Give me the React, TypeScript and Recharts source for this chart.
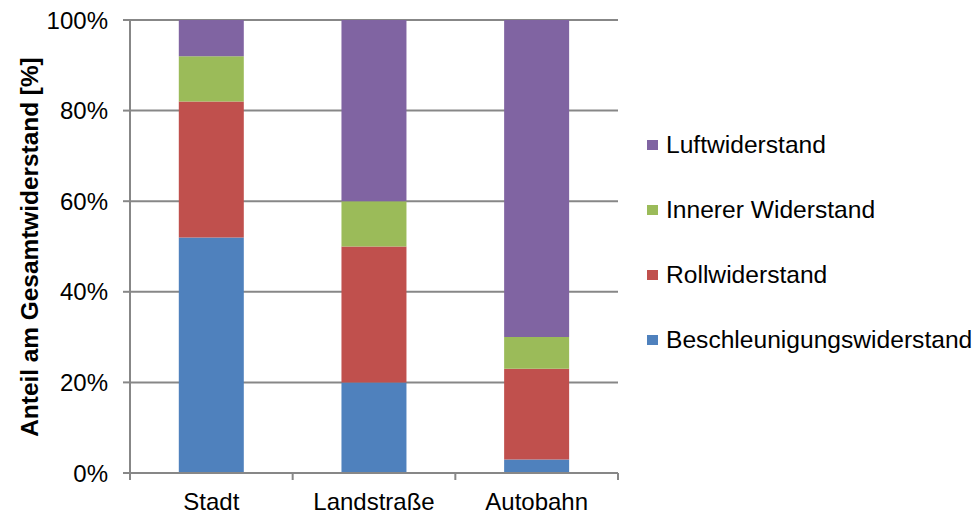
import React from 'react'
import { BarChart, Bar, XAxis, YAxis, CartesianGrid } from 'recharts'

const categories = ['Stadt', 'Landstraße', 'Autobahn']

const beschleunigung = [52, 20, 3]
const roll = [30, 30, 20]
const innerer = [10, 10, 7]
const luft = [8, 40, 70]

const yTicks = [0, 20, 40, 60, 80, 100]

const series = [
  { key: 'beschleunigung', name: 'Beschleunigungswiderstand', color: '#4F81BD', values: beschleunigung },
  { key: 'roll', name: 'Rollwiderstand', color: '#C0504D', values: roll },
  { key: 'innerer', name: 'Innerer Widerstand', color: '#9BBB59', values: innerer },
  { key: 'luft', name: 'Luftwiderstand', color: '#8064A2', values: luft },
]

const data = categories.map((name, i) => {
  const row: Record<string, string | number> = { name }
  series.forEach((s) => {
    row[s.key] = s.values[i]
  })
  return row
})

const WIDTH = 977
const HEIGHT = 514
const MARGIN = { top: 20, right: 359, bottom: 0, left: 0 }
const Y_AXIS_WIDTH = 130
const X_AXIS_HEIGHT = 41
const FONT = '"Liberation Sans", Arial, sans-serif'
const AXIS_COLOR = '#878787'

const plotWidth = WIDTH - MARGIN.left - MARGIN.right - Y_AXIS_WIDTH
const band = plotWidth / categories.length

// category labels centred under bars, tick marks on the band boundaries
const CategoryTick = (props: any) => {
  const { x, y, payload, index } = props
  const top = y
  return (
    <g>
      <line x1={x - band / 2} y1={top} x2={x - band / 2} y2={top + 7} stroke={AXIS_COLOR} strokeWidth={2} />
      {index === categories.length - 1 && (
        <line x1={x + band / 2} y1={top} x2={x + band / 2} y2={top + 7} stroke={AXIS_COLOR} strokeWidth={2} />
      )}
      <text x={x} y={top + 37} textAnchor="middle" fontFamily={FONT} fontSize={24} fill="#000">
        {payload.value}
      </text>
    </g>
  )
}

// legend lists the series top-down in reverse stacking order
const SeriesLegend = () => (
  <div
    style={{
      position: 'absolute',
      left: 647,
      top: 112,
      width: 330,
      fontFamily: FONT,
      fontSize: 24.6,
      color: '#000',
      whiteSpace: 'nowrap',
    }}
  >
    {[...series].reverse().map((s) => (
      <div key={s.key} style={{ display: 'flex', alignItems: 'center', height: 65 }}>
        <span style={{ display: 'inline-block', width: 11, height: 10, background: s.color, marginRight: 8 }} />
        <span>{s.name}</span>
      </div>
    ))}
  </div>
)

export default function App() {
  return (
    <div style={{ position: 'absolute', left: 0, top: 0, width: WIDTH, height: HEIGHT, background: '#fff' }}>
      <BarChart width={WIDTH} height={HEIGHT} data={data} margin={MARGIN} barCategoryGap="30%">
        <CartesianGrid vertical={false} stroke={AXIS_COLOR} strokeWidth={2} />
        <XAxis
          dataKey="name"
          height={X_AXIS_HEIGHT}
          stroke={AXIS_COLOR}
          strokeWidth={2}
          tickLine={false}
          tickSize={0}
          tickMargin={0}
          tick={<CategoryTick />}
          interval={0}
        />
        <YAxis
          width={Y_AXIS_WIDTH}
          domain={[0, 100]}
          ticks={yTicks}
          tickFormatter={(v: number) => `${v}%`}
          stroke={AXIS_COLOR}
          strokeWidth={2}
          tickSize={7}
          tickMargin={15}
          tick={{ fill: '#000', fontSize: 24, fontFamily: FONT }}
          label={{
            content: () => (
              <text
                x={29}
                y={247}
                transform="rotate(-90 29 247)"
                textAnchor="middle"
                dominantBaseline="central"
                fontFamily={FONT}
                fontWeight="bold"
                fontSize={24.4}
                fill="#000"
              >
                Anteil am Gesamtwiderstand [%]
              </text>
            ),
          }}
        />
        {series.map((s) => (
          <Bar key={s.key} dataKey={s.key} name={s.name} stackId="a" fill={s.color} isAnimationActive={false} />
        ))}
      </BarChart>
      <SeriesLegend />
    </div>
  )
}
